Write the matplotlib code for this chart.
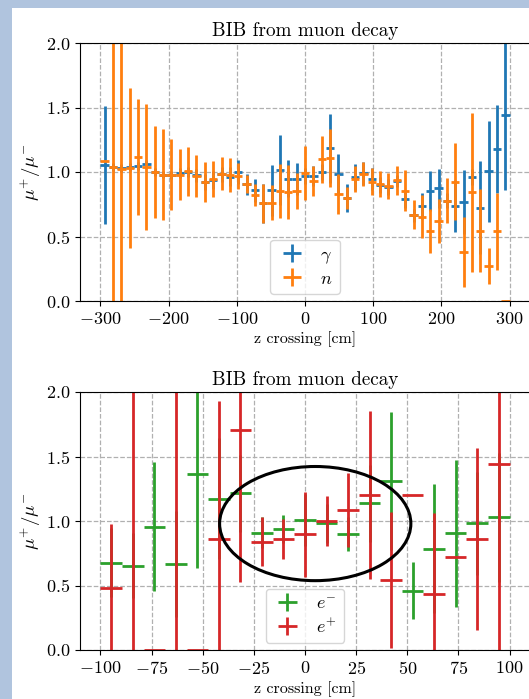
import numpy as np
import matplotlib
matplotlib.use("Agg")
import matplotlib.pyplot as plt
from matplotlib.patches import Ellipse, Rectangle

plt.rcParams["font.family"] = "serif"
plt.rcParams["font.serif"] = ["cmr10"]
plt.rcParams["mathtext.fontset"] = "cm"
plt.rcParams["axes.formatter.use_mathtext"] = True
plt.rcParams["font.size"] = 13

# top panel: photons and neutrons, 49 bins in z
z_edges_top = np.linspace(-300, 300, 50)
gamma_ratio = [1.055, 1.04, 1.03, 1.04, 1.045, 1.06, 1.0, 0.98, 0.975, 0.99,
               1.0, 0.975, 0.922, 0.94, 0.982, 0.965, 1.0, 0.905, 0.858, 0.757,
               0.858, 1.013, 0.948, 0.948, 0.97, 0.97, 1.0, 1.183, 0.987, 0.8,
               0.96, 0.99, 0.948, 0.9, 0.885, 0.93, 0.793, 0.664, 0.738, 0.85,
               0.873, 0.778, 0.735, 0.768, 0.96, 0.722, 1.005, 1.18, 1.44]
gamma_err = [0.455, 0.03, 0.03, 0.03, 0.03, 0.03, 0.03, 0.03, 0.03, 0.04,
             0.04, 0.05, 0.06, 0.07, 0.06, 0.07, 0.095, 0.08, 0.09, 0.15,
             0.2, 0.27, 0.145, 0.125, 0.06, 0.08, 0.06, 0.265, 0.15, 0.11,
             0.1, 0.09, 0.085, 0.06, 0.06, 0.05, 0.07, 0.05, 0.1, 0.155,
             0.15, 0.06, 0.2, 0.25, 0.06, 0.36, 0.39, 0.34, 0.58]
n_ratio = [1.085, 1.036, 1.023, 1.03, 1.114, 1.04, 1.0, 0.98, 0.977, 0.98,
           1.005, 0.97, 0.925, 0.943, 0.987, 0.977, 0.97, 0.91, 0.822, 0.757,
           0.762, 0.853, 0.848, 0.853, 0.995, 0.93, 1.098, 1.108, 0.83, 0.8,
           0.945, 0.985, 0.925, 0.904, 0.89, 0.935, 0.855, 0.67, 0.655, 0.545,
           0.62, 0.778, 0.925, 0.378, 0.843, 0.545, 0.27, 0.54, 0.0]
n_err = [0.0, 1.3, 1.4, 0.62, 0.45, 0.49, 0.36, 0.35, 0.275, 0.2,
         0.19, 0.16, 0.155, 0.14, 0.13, 0.13, 0.1, 0.07, 0.085, 0.15,
         0.135, 0.21, 0.21, 0.14, 0.21, 0.115, 0.18, 0.225, 0.155, 0.085,
         0.1, 0.09, 0.105, 0.1, 0.1, 0.115, 0.16, 0.115, 0.165, 0.17,
         0.17, 0.175, 0.3, 0.27, 0.615, 0.32, 0.14, 0.3, 0.0]

# bottom panel: electrons and positrons, 19 bins in z
z_edges_bot = np.linspace(-100, 100, 20)
em_ratio = [0.677, 0.654, 0.956, 0.664, 1.364, 1.173, 1.215, 0.91, 0.938, 1.008,
            0.982, 0.9, 1.137, 1.313, 0.46, 0.783, 0.904, 0.982, 1.028]
em_err = [0.27, 0.25, 0.5, 0.41, 0.73, 0.47, 0.3, 0.12, 0.11, 0.2,
          0.15, 0.13, 0.3, 0.535, 0.22, 0.5, 0.57, 0.4, 0.5]
ep_ratio = [0.48, 2.4, 0.0, 2.4, 0.0, 0.863, 1.705, 0.84, 0.86, 0.897,
            1.0, 1.085, 1.2, 0.543, 1.2, 0.432, 0.718, 0.863, 1.442]
ep_err = [0.5, 2.4, 0.0, 2.4, 0.0, 1.07, 1.18, 0.19, 0.155, 0.33,
          0.19, 0.29, 0.65, 0.53, 0.0, 0.63, 0.0, 0.705, 1.5]

W, H = 529, 699
fig = plt.figure(figsize=(W / 100, H / 100), dpi=100)
fig.patch.set_facecolor("#b0c4de")
fig.patches.append(Rectangle((12 / W, 0), 1, 1 - 8 / H, transform=fig.transFigure,
                             facecolor="white", edgecolor="none", zorder=-10))

ax1 = fig.add_axes([80 / W, 1 - 301 / H, 450 / W, 258 / H])
ax2 = fig.add_axes([80 / W, 1 - 650 / H, 450 / W, 258 / H])


def draw(ax, edges, series, xlim, xticks):
    centers = 0.5 * (edges[1:] + edges[:-1])
    half = 0.5 * (edges[1] - edges[0])
    for vals, errs, col, lab in series:
        ax.errorbar(centers, vals, xerr=half, yerr=errs, fmt="none",
                    ecolor=col, elinewidth=2.0, label=lab)
    ax.set_xlim(*xlim)
    ax.set_ylim(0, 2)
    ax.set_xticks(xticks)
    ax.set_yticks([0, 0.5, 1.0, 1.5, 2.0])
    ax.grid(True, ls="--", color="#b0b0b0", lw=0.9)
    ax.set_axisbelow(True)
    ax.set_title("BIB from muon decay", fontsize=13.8, pad=5)
    ax.set_xlabel("z crossing [cm]", fontsize=11.5, labelpad=3)
    ax.set_ylabel(r"$\mu^{+}/\mu^{-}$", fontsize=13.5, labelpad=2)
    ax.legend(loc="lower center", fontsize=13, handlelength=1.6,
              labelspacing=0.3, borderaxespad=0.4)


draw(ax1, z_edges_top,
     [(gamma_ratio, gamma_err, "#1f77b4", r"$\gamma$"),
      (n_ratio, n_err, "#ff7f0e", r"$n$")],
     (-330, 330), [-300, -200, -100, 0, 100, 200, 300])

draw(ax2, z_edges_bot,
     [(em_ratio, em_err, "#2ca02c", r"$e^{-}$"),
      (ep_ratio, ep_err, "#d62728", r"$e^{+}$")],
     (-110, 110), [-100, -75, -50, -25, 0, 25, 50, 75, 100])

ax2.add_patch(Ellipse((5, 0.98), 93.5, 0.885, fill=False, edgecolor="black",
                      lw=2.2, zorder=5))

fig.savefig("out.png", dpi=100, facecolor=fig.get_facecolor())
